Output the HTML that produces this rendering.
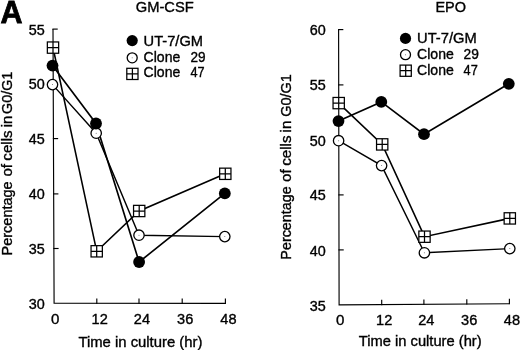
<!DOCTYPE html>
<html lang="en">
<head>
<meta charset="utf-8">
<title>Figure A</title>
<style>
html,body{margin:0;padding:0;background:#fff;}
body{width:520px;height:350px;overflow:hidden;}
svg{display:block;will-change:transform;}
svg text{font-family:"Liberation Sans", Arial, Helvetica, sans-serif;fill:#000;stroke:#000;stroke-width:0.35px;}
</style>
</head>
<body>
<svg width="520" height="350" viewBox="0 0 520 350">
<rect width="520" height="350" fill="#fff"/>
<path d="M53.0 29.1L54.1 303.2L225.4 303.3" stroke="#000" stroke-width="1.15" fill="none" stroke-linejoin="miter"/>
<path d="M52.42 29.1h5.3" stroke="#000" stroke-width="1.15"/>
<path d="M52.64 83.8h5.3" stroke="#000" stroke-width="1.15"/>
<path d="M52.86 138.6h5.3" stroke="#000" stroke-width="1.15"/>
<path d="M53.09 193.9h5.3" stroke="#000" stroke-width="1.15"/>
<path d="M53.31 248.5h5.3" stroke="#000" stroke-width="1.15"/>
<path d="M96.8 303.80v-5.4" stroke="#000" stroke-width="1.15"/>
<path d="M139 303.82v-5.4" stroke="#000" stroke-width="1.15"/>
<path d="M182.2 303.85v-5.4" stroke="#000" stroke-width="1.15"/>
<path d="M225.4 303.88v-5.4" stroke="#000" stroke-width="1.15"/>
<text x="44.8" y="34.8" font-size="14" text-anchor="end" textLength="16.0" lengthAdjust="spacingAndGlyphs">55</text>
<text x="44.8" y="89.35" font-size="14" text-anchor="end" textLength="16.0" lengthAdjust="spacingAndGlyphs">50</text>
<text x="44.8" y="143.85" font-size="14" text-anchor="end" textLength="16.0" lengthAdjust="spacingAndGlyphs">45</text>
<text x="44.8" y="199.1" font-size="14" text-anchor="end" textLength="16.0" lengthAdjust="spacingAndGlyphs">40</text>
<text x="44.8" y="253.95" font-size="14" text-anchor="end" textLength="16.0" lengthAdjust="spacingAndGlyphs">35</text>
<text x="44.8" y="309.35" font-size="14" text-anchor="end" textLength="16.0" lengthAdjust="spacingAndGlyphs">30</text>
<text x="55.1" y="324.3" font-size="14" text-anchor="middle" textLength="8.4" lengthAdjust="spacingAndGlyphs">0</text>
<text x="99.7" y="324.3" font-size="14" text-anchor="middle" textLength="16.2" lengthAdjust="spacingAndGlyphs">12</text>
<text x="141.9" y="324.3" font-size="14" text-anchor="middle" textLength="16.2" lengthAdjust="spacingAndGlyphs">24</text>
<text x="185.2" y="324.3" font-size="14" text-anchor="middle" textLength="16.2" lengthAdjust="spacingAndGlyphs">36</text>
<text x="228.4" y="324.3" font-size="14" text-anchor="middle" textLength="16.2" lengthAdjust="spacingAndGlyphs">48</text>
<path d="M53.00 47.60L96.70 251.30L139.20 211.00L225.30 173.80" stroke="#000" stroke-width="1.6" fill="none"/>
<path d="M52.50 65.60L96.00 123.50L139.10 262.00L224.80 193.40" stroke="#000" stroke-width="1.65" fill="none"/>
<path d="M52.50 84.60L96.20 133.20L139.00 235.20L224.80 236.60" stroke="#000" stroke-width="1.4" fill="none"/>
<rect x="47.35" y="41.95" width="11.3" height="11.3" fill="#fff" stroke="#000" stroke-width="1.25"/>
<path d="M47.35 47.60H58.65M53.00 41.95V53.25" stroke="#000" stroke-width="1.25" fill="none"/>
<rect x="91.05" y="245.65" width="11.3" height="11.3" fill="#fff" stroke="#000" stroke-width="1.25"/>
<path d="M91.05 251.30H102.35M96.70 245.65V256.95" stroke="#000" stroke-width="1.25" fill="none"/>
<rect x="133.55" y="205.35" width="11.3" height="11.3" fill="#fff" stroke="#000" stroke-width="1.25"/>
<path d="M133.55 211.00H144.85M139.20 205.35V216.65" stroke="#000" stroke-width="1.25" fill="none"/>
<rect x="219.65" y="168.15" width="11.3" height="11.3" fill="#fff" stroke="#000" stroke-width="1.25"/>
<path d="M219.65 173.80H230.95M225.30 168.15V179.45" stroke="#000" stroke-width="1.25" fill="none"/>
<circle cx="52.50" cy="84.60" r="5.2" fill="#fff" stroke="#000" stroke-width="1.3"/>
<circle cx="52.50" cy="84.60" r="0.5" fill="#666"/>
<circle cx="96.20" cy="133.20" r="5.2" fill="#fff" stroke="#000" stroke-width="1.3"/>
<circle cx="96.20" cy="133.20" r="0.5" fill="#666"/>
<circle cx="139.00" cy="235.20" r="5.2" fill="#fff" stroke="#000" stroke-width="1.3"/>
<circle cx="139.00" cy="235.20" r="0.5" fill="#666"/>
<circle cx="224.80" cy="236.60" r="5.2" fill="#fff" stroke="#000" stroke-width="1.3"/>
<circle cx="224.80" cy="236.60" r="0.5" fill="#666"/>
<circle cx="52.50" cy="65.60" r="5.9" fill="#000"/>
<circle cx="96.00" cy="123.50" r="5.9" fill="#000"/>
<circle cx="139.10" cy="262.00" r="5.9" fill="#000"/>
<circle cx="224.80" cy="193.40" r="5.9" fill="#000"/>
<path d="M338.6 29.6L339.1 304.85L509.4 303.7" stroke="#000" stroke-width="1.15" fill="none" stroke-linejoin="miter"/>
<path d="M338.03 29.6h5.3" stroke="#000" stroke-width="1.15"/>
<path d="M338.13 84.9h5.3" stroke="#000" stroke-width="1.15"/>
<path d="M338.23 139.9h5.3" stroke="#000" stroke-width="1.15"/>
<path d="M338.33 194.9h5.3" stroke="#000" stroke-width="1.15"/>
<path d="M338.43 249.9h5.3" stroke="#000" stroke-width="1.15"/>
<path d="M381.7 305.14v-5.4" stroke="#000" stroke-width="1.15"/>
<path d="M423.9 304.85v-5.4" stroke="#000" stroke-width="1.15"/>
<path d="M466.8 304.56v-5.4" stroke="#000" stroke-width="1.15"/>
<path d="M509.4 304.27v-5.4" stroke="#000" stroke-width="1.15"/>
<text x="325.8" y="35.05" font-size="14" text-anchor="end" textLength="16.0" lengthAdjust="spacingAndGlyphs">60</text>
<text x="325.8" y="89.85" font-size="14" text-anchor="end" textLength="16.0" lengthAdjust="spacingAndGlyphs">55</text>
<text x="325.8" y="145.85" font-size="14" text-anchor="end" textLength="16.0" lengthAdjust="spacingAndGlyphs">50</text>
<text x="325.8" y="200.1" font-size="14" text-anchor="end" textLength="16.0" lengthAdjust="spacingAndGlyphs">45</text>
<text x="325.8" y="255.85" font-size="14" text-anchor="end" textLength="16.0" lengthAdjust="spacingAndGlyphs">40</text>
<text x="325.8" y="310.9" font-size="14" text-anchor="end" textLength="16.0" lengthAdjust="spacingAndGlyphs">35</text>
<text x="340.20000000000005" y="325.3" font-size="14" text-anchor="middle" textLength="8.4" lengthAdjust="spacingAndGlyphs">0</text>
<text x="384.2" y="325.3" font-size="14" text-anchor="middle" textLength="16.2" lengthAdjust="spacingAndGlyphs">12</text>
<text x="426.29999999999995" y="325.3" font-size="14" text-anchor="middle" textLength="16.2" lengthAdjust="spacingAndGlyphs">24</text>
<text x="469.2" y="325.3" font-size="14" text-anchor="middle" textLength="16.2" lengthAdjust="spacingAndGlyphs">36</text>
<text x="511.9" y="325.3" font-size="14" text-anchor="middle" textLength="16.2" lengthAdjust="spacingAndGlyphs">48</text>
<path d="M338.70 103.10L382.20 144.40L424.50 236.70L509.80 218.40" stroke="#000" stroke-width="1.6" fill="none"/>
<path d="M338.50 121.10L381.30 101.90L424.00 134.20L508.80 83.80" stroke="#000" stroke-width="1.65" fill="none"/>
<path d="M338.60 140.70L381.60 165.60L424.40 252.80L509.80 248.60" stroke="#000" stroke-width="1.4" fill="none"/>
<rect x="333.05" y="97.45" width="11.3" height="11.3" fill="#fff" stroke="#000" stroke-width="1.25"/>
<path d="M333.05 103.10H344.35M338.70 97.45V108.75" stroke="#000" stroke-width="1.25" fill="none"/>
<rect x="376.55" y="138.75" width="11.3" height="11.3" fill="#fff" stroke="#000" stroke-width="1.25"/>
<path d="M376.55 144.40H387.85M382.20 138.75V150.05" stroke="#000" stroke-width="1.25" fill="none"/>
<rect x="418.85" y="231.05" width="11.3" height="11.3" fill="#fff" stroke="#000" stroke-width="1.25"/>
<path d="M418.85 236.70H430.15M424.50 231.05V242.35" stroke="#000" stroke-width="1.25" fill="none"/>
<rect x="504.15" y="212.75" width="11.3" height="11.3" fill="#fff" stroke="#000" stroke-width="1.25"/>
<path d="M504.15 218.40H515.45M509.80 212.75V224.05" stroke="#000" stroke-width="1.25" fill="none"/>
<circle cx="338.60" cy="140.70" r="5.2" fill="#fff" stroke="#000" stroke-width="1.3"/>
<circle cx="338.60" cy="140.70" r="0.5" fill="#666"/>
<circle cx="381.60" cy="165.60" r="5.2" fill="#fff" stroke="#000" stroke-width="1.3"/>
<circle cx="381.60" cy="165.60" r="0.5" fill="#666"/>
<circle cx="424.40" cy="252.80" r="5.2" fill="#fff" stroke="#000" stroke-width="1.3"/>
<circle cx="424.40" cy="252.80" r="0.5" fill="#666"/>
<circle cx="509.80" cy="248.60" r="5.2" fill="#fff" stroke="#000" stroke-width="1.3"/>
<circle cx="509.80" cy="248.60" r="0.5" fill="#666"/>
<circle cx="338.50" cy="121.10" r="5.9" fill="#000"/>
<circle cx="381.30" cy="101.90" r="5.9" fill="#000"/>
<circle cx="424.00" cy="134.20" r="5.9" fill="#000"/>
<circle cx="508.80" cy="83.80" r="5.9" fill="#000"/>
<text x="135.7" y="11.8" font-size="14.5" text-anchor="start" textLength="58" lengthAdjust="spacingAndGlyphs">GM-CSF</text>
<text x="435.4" y="11.7" font-size="14.6" text-anchor="start" textLength="30.6" lengthAdjust="spacingAndGlyphs">EPO</text>
<text x="0.4" y="22.9" font-size="32" font-weight="bold" textLength="22" lengthAdjust="spacingAndGlyphs" style="stroke-width:0.8px;stroke-linejoin:miter">A</text>
<circle cx="132.20" cy="40.60" r="5.6" fill="#000"/>
<circle cx="132.20" cy="57.80" r="5.0" fill="#fff" stroke="#000" stroke-width="1.3"/>
<circle cx="132.20" cy="57.80" r="0.5" fill="#666"/>
<rect x="126.80" y="68.30" width="11.2" height="11.2" fill="#fff" stroke="#000" stroke-width="1.25"/>
<path d="M126.80 73.90H138.00M132.40 68.30V79.50" stroke="#000" stroke-width="1.25" fill="none"/>
<text x="143.6" y="45.8" font-size="14" text-anchor="start" textLength="59.4" lengthAdjust="spacingAndGlyphs">UT-7/GM</text>
<text x="143.6" y="61.5" font-size="14" text-anchor="start" textLength="36.7" lengthAdjust="spacingAndGlyphs">Clone</text>
<text x="190.4" y="61.5" font-size="14" text-anchor="start" textLength="15.1" lengthAdjust="spacingAndGlyphs">29</text>
<text x="143.6" y="77.0" font-size="14" text-anchor="start" textLength="36.7" lengthAdjust="spacingAndGlyphs">Clone</text>
<text x="190.4" y="77.0" font-size="14" text-anchor="start" textLength="14.1" lengthAdjust="spacingAndGlyphs">47</text>
<circle cx="405.50" cy="38.40" r="5.6" fill="#000"/>
<circle cx="405.50" cy="54.70" r="5.0" fill="#fff" stroke="#000" stroke-width="1.3"/>
<circle cx="405.50" cy="54.70" r="0.5" fill="#666"/>
<rect x="400.10" y="65.10" width="11.2" height="11.2" fill="#fff" stroke="#000" stroke-width="1.25"/>
<path d="M400.10 70.70H411.30M405.70 65.10V76.30" stroke="#000" stroke-width="1.25" fill="none"/>
<text x="417.1" y="43.3" font-size="14" text-anchor="start" textLength="59.6" lengthAdjust="spacingAndGlyphs">UT-7/GM</text>
<text x="417.1" y="59.2" font-size="14" text-anchor="start" textLength="36.7" lengthAdjust="spacingAndGlyphs">Clone</text>
<text x="463.6" y="59.2" font-size="14" text-anchor="start" textLength="15.3" lengthAdjust="spacingAndGlyphs">29</text>
<text x="417.1" y="74.6" font-size="14" text-anchor="start" textLength="36.7" lengthAdjust="spacingAndGlyphs">Clone</text>
<text x="463.6" y="74.6" font-size="14" text-anchor="start" textLength="14.2" lengthAdjust="spacingAndGlyphs">47</text>
<text x="78.4" y="346.6" font-size="14" text-anchor="start" textLength="124" lengthAdjust="spacingAndGlyphs">Time in culture (hr)</text>
<text x="358.8" y="345.6" font-size="14" text-anchor="start" textLength="122.8" lengthAdjust="spacingAndGlyphs">Time in culture (hr)</text>
<g>
<text transform="translate(11.8 255.52) rotate(-90)" font-size="14" textLength="74.2" lengthAdjust="spacingAndGlyphs">Percentage</text>
<text transform="translate(11.8 176.59) rotate(-90)" font-size="14" textLength="12.54" lengthAdjust="spacingAndGlyphs">of</text>
<text transform="translate(11.8 160.63) rotate(-90)" font-size="14" textLength="30.19" lengthAdjust="spacingAndGlyphs">cells</text>
<text transform="translate(11.8 127.23) rotate(-90)" font-size="14" textLength="11.54" lengthAdjust="spacingAndGlyphs">in</text>
<text transform="translate(11.8 113.95) rotate(-90)" font-size="14" textLength="42.24" lengthAdjust="spacingAndGlyphs">G0/G1</text>
</g>
<g>
<text transform="translate(290.8 259.69) rotate(-90)" font-size="14" textLength="73.46" lengthAdjust="spacingAndGlyphs">Percentage</text>
<text transform="translate(290.8 181.92) rotate(-90)" font-size="14" textLength="12.55" lengthAdjust="spacingAndGlyphs">of</text>
<text transform="translate(290.8 165.85) rotate(-90)" font-size="14" textLength="30.31" lengthAdjust="spacingAndGlyphs">cells</text>
<text transform="translate(290.8 132.42) rotate(-90)" font-size="14" textLength="11.79" lengthAdjust="spacingAndGlyphs">in</text>
<text transform="translate(290.8 116.84) rotate(-90)" font-size="14" textLength="42.53" lengthAdjust="spacingAndGlyphs">G0/G1</text>
</g>
</svg>
</body>
</html>
